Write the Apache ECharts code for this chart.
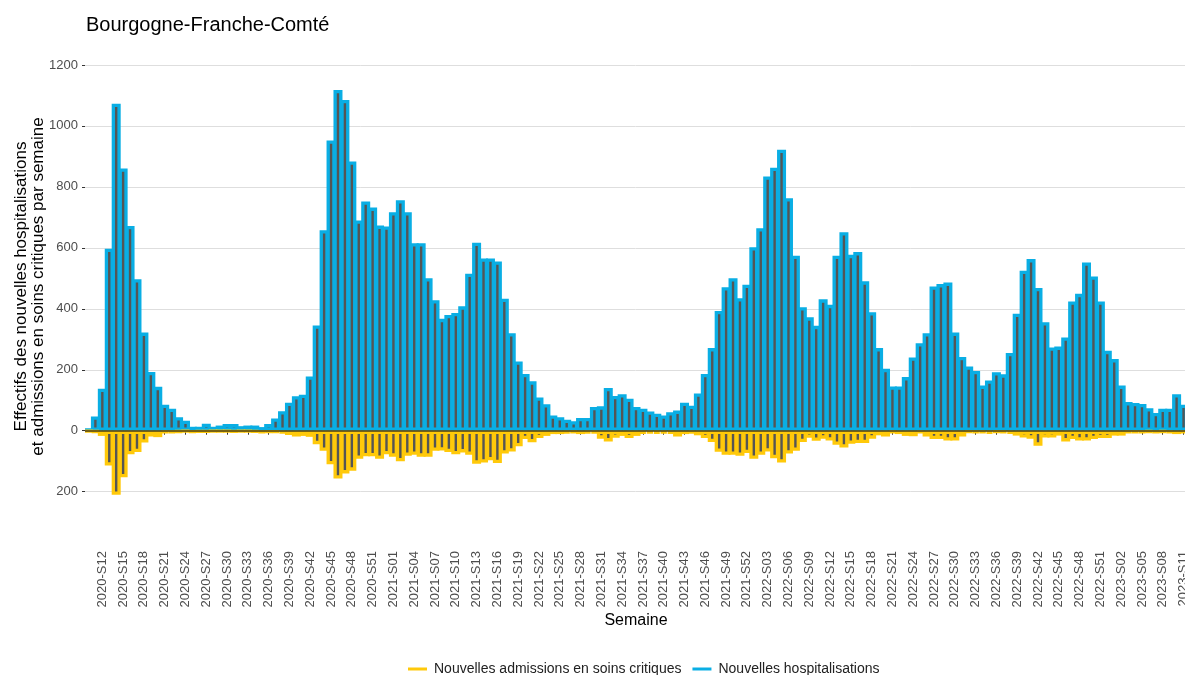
<!DOCTYPE html>
<html>
<head>
<meta charset="utf-8">
<script src="https://cdn.jsdelivr.net/npm/echarts@6/dist/echarts.min.js"></script>
<style>
  html, body { margin: 0; padding: 0; background: #fff; }
  #chart { width: 1185px; height: 675px; }
</style>
</head>
<body>
<div id="chart"></div>
<script>
// semaines : de 2020-S10 à 2023-S11
const firstWeek = [2020, 10];
const lastWeek = [2023, 11];
const weeksInYear = { 2020: 53, 2021: 52, 2022: 52, 2023: 52 };

// Nouvelles hospitalisations par semaine
const hospitalisations = [
  5, 47, 138, 597, 1073, 860, 672, 497, 322, 193,
  144, 85, 72, 44, 33, 13, 13, 23, 13, 17,
  22, 22, 15, 17, 17, 12, 22, 40, 64, 92,
  113, 118, 178, 345, 658, 952, 1118, 1085, 883, 690,
  752, 732, 673, 670, 717, 756, 717, 615, 615, 500,
  428, 367, 380, 386, 408, 515, 617, 565, 565, 555,
  433, 320, 227, 186, 162, 109, 87, 50, 44, 36,
  31, 42, 42, 78, 80, 140, 114, 120, 105, 78,
  72, 63, 56, 50, 61, 66, 92, 82, 122, 186,
  271, 393, 471, 500, 435, 479, 602, 664, 834, 863,
  922, 763, 574, 405, 372, 344, 431, 413, 574, 651,
  577, 586, 490, 389, 271, 203, 145, 145, 176, 240,
  287, 320, 473, 481, 486, 322, 242, 211, 196, 148,
  165, 192, 185, 255, 384, 525, 563, 468, 356, 273,
  276, 306, 424, 449, 552, 506, 424, 262, 235, 148,
  94, 91, 88, 74, 58, 72, 72, 120, 85
];

// Nouvelles admissions en soins critiques par semaine (dessinées vers le bas)
const soinsCritiques = [
  2, 5, 17, 114, 210, 153, 77, 70, 39, 19,
  21, 8, 7, 5, 3, 6, 4, 4, 3, 3,
  3, 4, 3, 3, 4, 7, 6, 6, 9, 14,
  19, 17, 20, 44, 66, 110, 157, 140, 131, 92,
  84, 84, 92, 77, 85, 100, 82, 79, 85, 85,
  66, 65, 70, 77, 71, 79, 108, 104, 97, 106,
  75, 68, 51, 27, 38, 24, 17, 11, 11, 9,
  7, 11, 9, 9, 26, 35, 23, 17, 24, 17,
  10, 9, 10, 9, 10, 19, 11, 9, 15, 24,
  37, 69, 79, 79, 82, 73, 92, 79, 68, 90,
  104, 75, 66, 37, 23, 33, 26, 32, 46, 55,
  43, 40, 40, 26, 15, 19, 7, 11, 17, 18,
  8, 19, 27, 27, 32, 32, 19, 6, 8, 8,
  10, 6, 8, 10, 16, 22, 26, 49, 22, 22,
  16, 35, 27, 32, 32, 27, 24, 24, 16, 16,
  7, 7, 7, 5, 7, 5, 8, 11, 8
];

const yTicks = [-200, 0, 200, 400, 600, 800, 1000, 1200];

const semaines = [];
let y = firstWeek[0], w = firstWeek[1];
while (y < lastWeek[0] || (y === lastWeek[0] && w <= lastWeek[1])) {
  semaines.push(y + '-S' + String(w).padStart(2, '0'));
  w++;
  if (w > weeksInYear[y]) { w = 1; y++; }
}

const FONT = '"Liberation Sans", Arial, sans-serif';
const BLUE = '#0AAEE4';
const YELLOW = '#FFC90A';
const CORE = '#555555';

const showEvery3 = function (index) { return (index - 2) % 3 === 0; };

const chart = echarts.init(document.getElementById('chart'));
const option = {
  backgroundColor: '#ffffff',
  animation: false,
  textStyle: { fontFamily: FONT },
  title: {
    text: 'Bourgogne-Franche-Comté',
    left: 81,
    top: 10,
    textStyle: { fontFamily: FONT, fontSize: 20, fontWeight: 'normal', color: '#000' }
  },
  legend: {
    left: 403,
    top: 657,
    itemWidth: 19,
    itemHeight: 3,
    itemGap: 11,
    icon: 'rect',
    textStyle: { fontFamily: FONT, fontSize: 14, color: '#222', padding: [0, 0, 0, 2] },
    data: [
      { name: 'Nouvelles admissions en soins critiques', itemStyle: { color: YELLOW, borderWidth: 0 } },
      { name: 'Nouvelles hospitalisations', itemStyle: { color: BLUE, borderWidth: 0 } }
    ]
  },
  grid: { left: 85, right: -2, top: 57, bottom: 133, containLabel: false, outerBoundsMode: 'none' },
  xAxis: {
    type: 'category',
    data: semaines,
    boundaryGap: true,
    name: 'Semaine',
    nameLocation: 'middle',
    nameGap: 71,
    nameMoveOverlap: false,
    nameTextStyle: { fontFamily: FONT, fontSize: 16, color: '#000', verticalAlign: 'top' },
    axisLine: { show: false },
    axisTick: { show: true, alignWithLabel: true, interval: showEvery3, length: 4, lineStyle: { color: '#333' } },
    axisLabel: {
      interval: showEvery3,
      rotate: 90,
      margin: 9,
      padding: [8, 0, 0, 0],
      fontFamily: FONT,
      fontSize: 13,
      color: '#4d4d4d'
    },
    splitLine: { show: false }
  },
  yAxis: {
    type: 'value',
    min: -365,
    max: 1226,
    name: 'Effectifs des nouvelles hospitalisations\net admissions en soins critiques par semaine',
    nameLocation: 'middle',
    nameGap: 38,
    nameMoveOverlap: false,
    nameTextStyle: { fontFamily: FONT, fontSize: 17, lineHeight: 17, color: '#000', padding: [0, 0, 0, 26] },
    axisLine: { show: false },
    axisTick: { show: true, length: 3, customValues: yTicks, lineStyle: { color: '#333' } },
    axisLabel: {
      customValues: yTicks,
      margin: 7,
      fontFamily: FONT,
      fontSize: 13,
      color: '#4d4d4d',
      formatter: function (v) { return String(Math.abs(v)); }
    },
    splitLine: { show: true, lineStyle: { color: '#dedede', width: 1 } }
  },
  series: [
    {
      name: 'Nouvelles hospitalisations',
      type: 'bar',
      data: hospitalisations,
      barWidth: 9,
      barGap: '-100%',
      z: 2,
      itemStyle: { color: CORE, borderColor: BLUE, borderWidth: 3.3 }
    },
    {
      name: 'Nouvelles admissions en soins critiques',
      type: 'bar',
      data: soinsCritiques.map(function (v) { return -v; }),
      barWidth: 9,
      barGap: '-100%',
      z: 3,
      itemStyle: { color: CORE, borderColor: YELLOW, borderWidth: 3.3 },
      markLine: {
        silent: true,
        symbol: 'none',
        label: { show: false },
        lineStyle: { color: '#4a3f16', width: 1.5, type: 'solid' },
        data: [{ yAxis: 0 }]
      }
    }
  ]
};
chart.setOption(option);
</script>
</body>
</html>
